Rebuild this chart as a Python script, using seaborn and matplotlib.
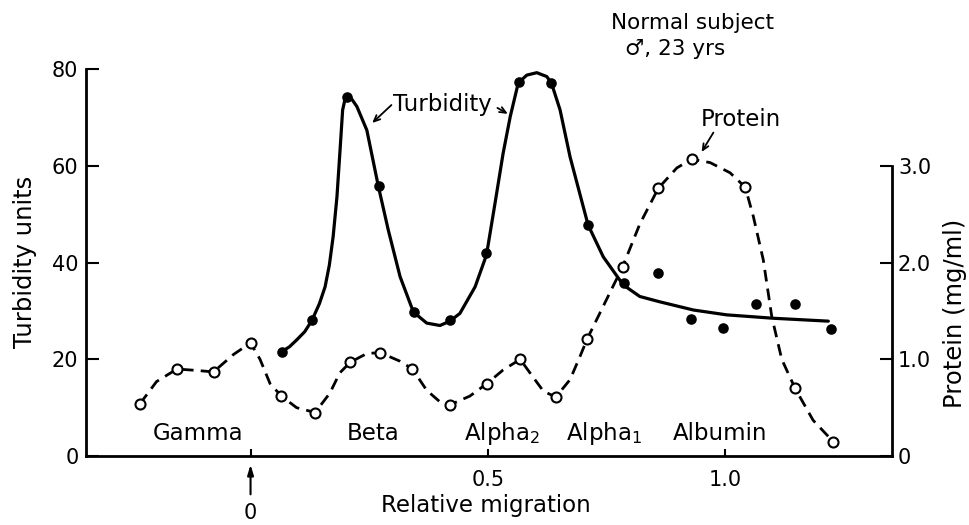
import matplotlib
matplotlib.use("Agg")
import numpy as np
import pandas as pd
import matplotlib.pyplot as plt
import seaborn as sns

# measured points (relative migration, turbidity units)
turb_x = [0.066, 0.130, 0.204, 0.270, 0.345, 0.420, 0.497, 0.566, 0.633,
          0.711, 0.786, 0.859, 0.928, 0.996, 1.065, 1.147, 1.222]
turb_y = [21.6, 28.2, 74.2, 55.9, 29.8, 28.1, 41.9, 77.4, 77.2,
          47.8, 35.7, 37.8, 28.3, 26.5, 31.5, 31.5, 26.3]

# measured points (relative migration, protein mg/ml)
prot_x = [-0.233, -0.155, -0.078, 0.0, 0.065, 0.136, 0.210, 0.273, 0.341, 0.420,
          0.498, 0.568, 0.643, 0.709, 0.784, 0.859, 0.929, 1.042, 1.147, 1.227]
prot_y = [0.54, 0.90, 0.87, 1.17, 0.62, 0.45, 0.97, 1.07, 0.90, 0.53,
          0.75, 1.00, 0.61, 1.21, 1.96, 2.77, 3.07, 2.78, 0.70, 0.15]

# hand-drawn curves
turb_curve_x = [0.066, 0.082, 0.097, 0.114, 0.129, 0.145, 0.157, 0.166, 0.174, 0.182,
                0.189, 0.194, 0.199, 0.204, 0.212, 0.224, 0.245, 0.269, 0.290, 0.315,
                0.343, 0.371, 0.399, 0.420, 0.441, 0.473, 0.497, 0.515, 0.532, 0.547,
                0.564, 0.582, 0.603, 0.624, 0.634, 0.652, 0.673, 0.711, 0.743, 0.785,
                0.820, 0.862, 0.933, 1.003, 1.101, 1.217]
turb_curve_y = [21.6, 22.6, 24.0, 25.7, 28.0, 31.5, 35.0, 39.5, 45.4, 53.6,
                64.0, 71.6, 73.8, 74.6, 74.0, 72.3, 67.4, 55.9, 46.8, 37.1,
                29.8, 27.5, 27.0, 27.9, 29.5, 35.0, 41.6, 52.3, 62.6, 70.2,
                77.2, 78.8, 79.3, 78.5, 77.1, 71.6, 61.9, 47.8, 41.2, 35.4,
                33.0, 31.9, 30.2, 29.2, 28.5, 27.9]

prot_curve_x = [-0.233, -0.198, -0.155, -0.113, -0.078, -0.036, 0.0, 0.020, 0.041, 0.065,
                0.097, 0.136, 0.167, 0.188, 0.210, 0.245, 0.273, 0.315, 0.341, 0.371,
                0.399, 0.420, 0.462, 0.498, 0.532, 0.568, 0.596, 0.617, 0.643, 0.673,
                0.694, 0.709, 0.736, 0.784, 0.820, 0.859, 0.898, 0.929, 0.968, 1.010,
                1.042, 1.059, 1.080, 1.098, 1.119, 1.147, 1.185, 1.227]
prot_curve_y = [0.54, 0.77, 0.90, 0.885, 0.87, 1.05, 1.17, 1.00, 0.75, 0.62,
                0.50, 0.45, 0.65, 0.86, 0.97, 1.06, 1.07, 0.98, 0.90, 0.68,
                0.56, 0.53, 0.62, 0.75, 0.89, 1.00, 0.81, 0.67, 0.61, 0.79,
                1.03, 1.21, 1.48, 1.96, 2.40, 2.77, 2.98, 3.07, 3.035, 2.93,
                2.78, 2.48, 2.03, 1.44, 1.00, 0.70, 0.37, 0.15]

fraction_names = ["Gamma", "Beta", "Alpha$_2$", "Alpha$_1$", "Albumin"]
fraction_x = [-0.110, 0.258, 0.530, 0.744, 0.988]

sns.set_style("ticks")
plt.rcParams["font.family"] = ["DejaVu Sans"]
plt.rcParams["mathtext.fontset"] = "dejavusans"
for k in ["text.color", "axes.labelcolor", "xtick.color", "ytick.color", "axes.edgecolor"]:
    plt.rcParams[k] = "black"

fig = plt.figure(figsize=(9.69, 5.25), dpi=100)
ax = fig.add_axes([0.0888, 0.1314, 0.8314, 0.7366])
ax2 = ax.twinx()

# turbidity: solid curve + filled dots
sns.lineplot(x=turb_curve_x, y=turb_curve_y, ax=ax, sort=False, estimator=None,
             color="black", lw=2.3)
sns.scatterplot(x=turb_x, y=turb_y, ax=ax, color="black", s=58, edgecolor="black",
                linewidth=0, zorder=3)

# protein: dashed curve + open circles
sns.lineplot(x=prot_curve_x, y=prot_curve_y, ax=ax2, sort=False, estimator=None,
             color="black", lw=2.0, ls=(0, (4.2, 2.6)))
sns.scatterplot(x=prot_x, y=prot_y, ax=ax2, s=52, facecolor="white", edgecolor="black",
                linewidth=1.5, zorder=3)

ax.set_xlim(-0.3465, 1.3505)
ax.set_ylim(0, 80)
ax2.set_ylim(0, 4.0)

ax.set_xticks([0, 0.5, 1.0])
ax.set_xticklabels(["", "0.5", "1.0"])
ax.set_yticks([0, 20, 40, 60, 80])
ax.set_yticklabels(["0", "20", "40", "60", "80"])
ax2.set_yticks([0, 1, 2, 3])
ax2.set_yticklabels(["0", "1.0", "2.0", "3.0"])

ax.tick_params(axis="x", direction="in", length=5, width=1.5, labelsize=15, pad=10)
ax.tick_params(axis="y", direction="in", length=9, width=1.5, labelsize=15, pad=5.5)
ax2.tick_params(axis="y", direction="in", length=9, width=1.5, labelsize=15, pad=4.5)

for s in ["top", "right"]:
    ax.spines[s].set_visible(False)
for s in ["top", "left", "bottom"]:
    ax2.spines[s].set_visible(False)
for s in ["left", "bottom"]:
    ax.spines[s].set_linewidth(2.0)
ax2.spines["right"].set_linewidth(2.0)
ax2.spines["right"].set_bounds(0, 3)

ax.set_xlabel("Relative migration", fontsize=16.5)
ax.xaxis.set_label_coords(0.4965, -0.099)
ax.set_ylabel("Turbidity units", fontsize=17.5)
ax.yaxis.set_label_coords(-0.0608, 0.502)
ax2.set_ylabel("Protein (mg/ml)", fontsize=17.5)
ax2.yaxis.set_label_coords(1.0637, 0.37)

# fraction names along the bottom
for name, fx in zip(fraction_names, fraction_x):
    ax.text(fx, 3.4, name, ha="center", va="baseline", fontsize=16.5)

# origin marker below the axis
ax.annotate("", xy=(0, -1.2), xytext=(0, -8.5), annotation_clip=False,
            arrowprops=dict(arrowstyle="-|>,head_length=0.6,head_width=0.18",
                            color="black", lw=1.5))
ax.text(0, -11.8, "0", ha="center", va="center", fontsize=15)

# curve labels
arr = dict(arrowstyle="->,head_length=0.45,head_width=0.2", color="black", lw=1.3)
ax.text(0.405, 72.8, "Turbidity", ha="center", va="center", fontsize=16.5)
ax.annotate("", xy=(0.252, 68.5), xytext=(0.301, 73.0), arrowprops=arr)
ax.annotate("", xy=(0.547, 70.5), xytext=(0.515, 72.3), arrowprops=arr)
ax.text(1.033, 69.7, "Protein", ha="center", va="center", fontsize=16.5)
ax.annotate("", xy=(0.947, 62.4), xytext=(0.978, 67.4), arrowprops=arr)

ax.text(0.930, 89.6, "Normal subject", ha="center", va="center", fontsize=15.5)
ax.text(0.894, 84.2, "\u2642, 23 yrs", ha="center", va="center", fontsize=15.5)

fig.savefig("out.png", dpi=100)
